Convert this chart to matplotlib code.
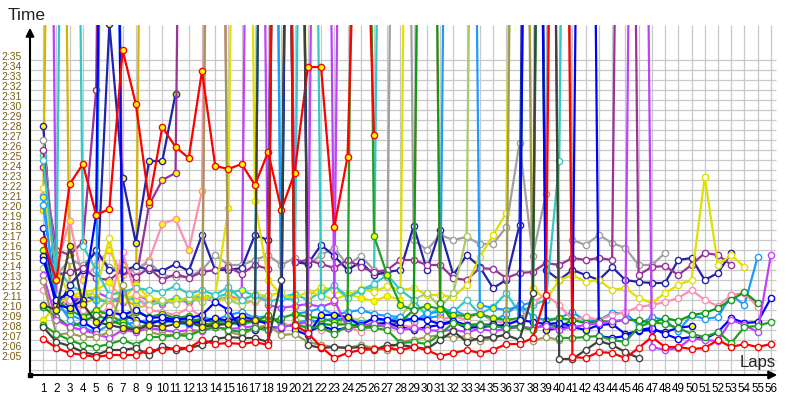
import numpy as np
import matplotlib
matplotlib.use('Agg')
from matplotlib import pyplot as plt

nan = np.nan
P = 260  # lap far off the top of the chart (pit stop)

laps = list(range(1, 57))
y_ticks = list(range(125, 156))

red_w = [127.1,126.2,125.7,125.5,125.3,125.5,125.5,125.5,126.0,126.0,
         126.2,126.2,127.0,126.6,126.7,126.6,126.8,126.5,P,128.5,
         127.7,126.3,125.2,125.7,126.0,126.1,126.2,126.0,126.3,126.0,
         125.4,125.7,126.0,125.7,126.0,126.6,126.6,127.2,131.5,P,
         125.3,125.2,125.8,125.7,125.2,126.2,127.3,126.3,126.3,126.1,
         126.2,127.0,126.3,126.6,126.3,126.6]
red_y = [137.0,133.0,142.6,144.6,139.5,140.1,156.0,150.6,140.8,148.3,
         146.3,145.2,153.9,144.4,144.1,144.6,142.5,145.8,140.0,143.7,
         154.3,154.3,138.3,145.3,190,147.5]
dgray_w = [128.3,126.8,126.4,125.8,125.5,126.0,126.0,126.2,125.5,126.4,
           126.0,126.2,126.5,127.1,127.3,127.2,127.2,126.8,133.0,P,
           126.5,126.2,126.3,126.2,126.3,126.0,126.5,126.5,126.3,126.1,
           127.0,127.9,126.8,127.2,127.3,127.5,127.0,131.7,P,125.1,
           125.1,126.0,126.9,126.5,125.8,125.2]
dgray_y = [130.5,130.0,136.4,130.6,128.8,128.5,128.2,128.0,128.5,128.3,
           128.6,128.8,128.3,128.5,128.6,128.9,129.0,P]
green_w = [128.5,127.6,127.0,126.5,126.3,126.6,127.0,126.5,127.3,127.3,
           127.5,127.4,128.0,128.3,128.0,127.8,128.2,128.0,P,128.6,
           128.2,128.3,127.6,128.4,128.3,128.2,128.0,126.7,126.8,126.6,
           127.6,128.7,128.4,128.5,128.4,128.2,128.3,128.0,P,127.2,
           127.2,127.3,127.4,127.0,126.8,128.3,128.8,128.6,128.2,127.6,
           127.3,127.8,126.7,128.3,128.4,128.8]
green2_w = [130.3,129.3,128.3,128.8,129.5,129.0,128.5,128.0,128.7,129.0,
            129.2,129.0,129.0,128.8,129.0,129.0,128.8,129.5,128.5,P,
            128.0,128.6,128.5,128.6,128.4,128.4,128.5,128.8,130.0,P,
            130.7,128.7,128.5,128.6,128.5,128.3,128.4,128.1,128.6,128.3,
            129.0,128.7,128.9,128.8,129.0,129.0,128.7,129.2,128.9,129.5,
            129.7,130.2,131.0,131.8,130.7]
green_y = [136.0,131.0,130.0,129.3,130.0,129.5,128.8,129.8,129.3,129.6,
           129.2,129.4,128.5,128.7,128.6,128.7,128.9,128.9,129.2,129.6,
           129.3,129.2,128.8,129.3,P,137.4,133.5,130.5,130.0,130.4,
           130.1,129.5,129.4,129.6,129.2,129.0,129.2,P,128.9,129.2,
           129.0]
olive_w = [132.9,127.5,127.7,127.3,127.3,127.8,132.5,128.7,127.8,127.5,
           127.5,127.7,128.0,P,127.8,127.5,128.2,128.5,127.5,127.6,
           126.8,126.5,126.3,126.2,126.5,126.2,126.0,126.8,127.0,127.3,
           127.5,127.2,127.4,126.9,127.2,127.6,P,126.9,127.3,127.0]
blue_w = [135.0,131.0,131.7,128.8,128.0,129.8,129.5,130.0,129.2,129.3,
          129.0,129.2,129.5,130.8,130.0,128.0,128.0,128.3,128.2,P,
          127.8,128.4,128.0,128.2,128.5,129.2,129.0,128.8,129.2,129.0,
          128.6,128.9,128.5,128.3,128.4,128.5,129.0,128.8,128.6,128.7,
          128.4,P,127.4,127.2,127.4,128.0,128.2,127.6,127.1,127.3,
          127.1,127.8,129.2,128.7,128.8,131.2]
blue_y = [135.4,130.5,130.2,131.0,139.5,P,129.5,129.0,128.6,129.0,
          128.8,128.7,128.8,129.2,128.9,129.4,129.0,128.6,P,128.0,
          127.5,129.5,129.5,129.3,128.4,128.6,128.7,128.3,128.0,128.3,
          128.5,128.8,128.2,128.3,128.6,128.1,128.4,P,128.0,128.2,
          128.3,128.0,128.5,128.6,127.6,127.9,128.0,127.8,128.2,128.4]
navy_w = [138.2,130.0,132.5,134.0,136.0,134.0,133.9,134.4,134.0,133.9,
          134.6,133.9,137.5,134.0,134.0,134.2,137.5,137.0,P,134.8,
          134.6,136.5,135.4,134.0,134.8,133.5,133.8,134.0,138.4,134.0,
          138.0,133.5,135.5,134.3,132.2,133.0,138.5,P,134.0,133.0,
          134.0,133.5,133.0,134.3,133.0,132.8,132.7,132.7,135.0,135.2,
          133.0,133.7,135.7]
navy_y = [148.4,131.0,130.5,131.5,131.0,158.6,143.2,136.7,144.9,144.9,151.6]
skyblue_w = [140.5,131.0,129.0,128.2,127.8,128.5,129.2,128.0,128.6,129.0,
             128.8,128.5,129.3,129.0,129.5,129.8,129.2,129.4,P,129.6,
             129.8,130.2,129.5,129.8,130.0,129.6,129.4,129.3,128.8,129.7,
             129.8,130.0,129.4,129.7,128.9,129.6,130.6,129.3,129.0,129.2,
             129.8,128.9,129.0,129.7,129.7,128.5,129.3,129.0,127.9,129.5,
             129.1,129.3,131.5,130.5,135.3]
skyblue_y = [141.3,130.5,129.5,129.0,129.3,P,128.5,128.8,129.0,128.7,
             129.0,128.9,128.6,128.4,128.8,128.5,128.9,P,128.3,128.6,
             129.0,128.8,129.2,129.0,128.7,129.1,128.9,129.3,129.0,129.2,
             129.4,P,P,130.5,130.2,130.0,130.4,130.8,P]
cyan_w = [145.0,133.0,P,136.4,134.0,131.5,131.8,132.2,132.0,131.8,
          132.4,131.6,132.0,131.5,132.3,131.0,131.5,130.8,131.2,131.0,
          P,131.4,132.5,131.2,132.0,132.6,133.5,132.0,131.0,129.3,
          130.3,129.8,131.0,129.6,130.3,131.7,129.7,130.5,131.0,144.9,P]
cyan_y = [145.5,134.3,132.5,131.8,131.0,130.8,131.4,131.0,130.5,130.8,
          131.2,131.0,131.5,131.2,131.7,132.0,131.4,P,131.3,131.6,
          131.0,131.8,132.2,131.5,131.9,132.3,P]
pink_w = [132.0,130.2,131.0,130.0,129.0,130.4,135.8,131.5,130.0,129.8,
          129.5,130.2,129.3,P,129.0,128.5,129.0,129.3,128.8,128.2,
          128.5,128.0,127.8,128.4,127.8,128.6,128.2,128.5,128.3,P,
          129.0,129.4,129.0,129.8,128.9,128.7,128.8,130.8,131.5,130.5,
          129.0,129.3,129.0,129.5,129.8,130.3,130.5,130.8,131.2,132.0,
          131.0,130.4,131.5,131.7,130.3]
pink_y = [141.5,134.5,138.9,133.0,134.5,136.0,133.5,134.0,135.0,138.6,
          139.1,136.0,141.9,P,131.5,131.0,130.8,131.2,P]
magenta_w = [133.5,129.0,128.3,128.0,127.6,127.2,128.0,127.8,128.2,128.0,
             127.8,128.0,127.9,128.3,128.1,128.2,128.4,128.0,128.3,128.5,
             128.8,P,131.0,128.2,128.4,128.6,128.4,128.0,128.2,128.0,
             127.9,128.0,127.8,128.1,127.9,128.1,128.3,128.2,128.4,128.0,
             128.3,128.5,128.7,128.9,129.0,P,126.3,126.0,126.2,127.2,
             127.0,126.9,129.0,128.5,127.8,135.5]
magenta_y = [P,131.5,131.0,131.3,131.8,131.2,130.8,131.5,131.0,130.6,
             131.0,130.8,131.2,130.9,131.3,131.0,P,130.5,130.2,130.4,
             130.6,130.3,130.8,P]
dpurple_w = [146.0,133.5,133.8,134.2,133.2,133.0,134.0,133.3,134.2,133.0,
             133.6,133.2,133.8,134.0,134.3,133.6,134.5,134.1,P,134.8,
             135.0,134.6,134.2,135.0,134.3,133.8,134.0,135.0,135.0,134.5,
             134.5,133.2,133.0,134.2,134.1,133.2,133.7,133.8,134.7,134.5,
             135.2,135.0,135.2,135.0,P,133.5,134.3,134.4,133.5,134.5,
             135.7,135.5,134.5]
dpurple_y = [144.3,136.0,135.5,136.8,152.0,P,134.5,133.0,140.5,143.0,143.7,P]
yellow_w = [142.2,134.0,131.5,131.2,131.8,137.2,131.0,131.5,131.2,131.0,
            130.8,131.3,131.6,130.8,131.2,131.0,131.6,131.4,131.8,P,
            131.5,132.3,132.0,131.4,132.1,131.8,132.4,132.0,132.2,131.5,
            131.5,131.3,132.5,135.3,137.5,139.7,P,132.2,131.0,133.0,
            133.5,132.8,133.0,132.0,132.2,131.2,130.7,131.7,132.5,133.0,
            143.3,134.5,135.5,134.3]
yellow_y = [129.0,130.5,131.4,131.8,132.0,132.8,131.0,132.5,131.2,131.0,
            130.8,131.2,131.0,131.5,140.2,P,140.9,133.0,131.5,131.2,
            131.8,131.5,131.0,131.6,131.2,130.9,131.4,131.0,P]
lgreen_w = [134.2,131.5,130.8,129.5,129.8,131.2,129.0,130.2,130.5,131.0,
            130.6,131.2,130.8,131.4,131.0,130.5,131.0,131.5,P,129.0,
            128.8,128.7,128.4,129.2,129.0,128.8,128.6,129.3,131.0,131.7,
            130.3,131.7,137.4,P]
gray_w = [147.0,133.5,135.0,134.5,135.8,134.3,134.0,134.0,134.8,133.5,
          133.3,133.3,134.0,135.5,134.5,134.5,135.0,135.5,134.5,135.2,
          134.5,135.5,136.2,134.5,135.4,134.0,133.3,P,137.0,136.0,
          137.5,137.0,137.3,136.6,136.6,138.3,146.7,135.4,141.6,P,
          137.0,136.5,137.5,136.7,136.2,134.5,134.5,135.7]
gold_y = [140.0,P,131.0,130.6,131.2,130.8,131.0,130.5,P]

series = [
    (gold_y, '#d8b400', '#ffff00'),
    (navy_y, '#2222aa', '#ffff00'),
    (dpurple_y, '#993399', '#ffff00'),
    (pink_y, '#ff8fb0', '#ffff00'),
    (magenta_y, '#c040ff', '#ffff00'),
    (cyan_y, '#33c8c8', '#ffff00'),
    (gray_w, '#a0a0a0', 'white'),
    (navy_w, '#2222aa', 'white'),
    (dpurple_w, '#993399', 'white'),
    (yellow_y, '#e0e000', '#ffff00'),
    (yellow_w, '#e0e000', 'white'),
    (lgreen_w, '#aacc66', 'white'),
    (cyan_w, '#33c8c8', 'white'),
    (skyblue_y, '#1e9bff', '#ffff00'),
    (skyblue_w, '#1e9bff', 'white'),
    (pink_w, '#ff8fb0', 'white'),
    (green_y, '#22a022', '#ffff00'),
    (green2_w, '#119911', 'white'),
    (blue_y, '#0000ff', '#ffff00'),
    (blue_w, '#0000ff', 'white'),
    (magenta_w, '#c040ff', 'white'),
    (olive_w, '#a09a5a', 'white'),
    (green_w, '#22a022', 'white'),
    (dgray_y, '#404040', '#ffff00'),
    (red_y, '#ff0000', '#ffff00'),
    (dgray_w, '#404040', 'white'),
    (red_w, '#ff0000', 'white'),
]

plt.rcParams['font.family'] = ['Liberation Sans', 'DejaVu Sans']

fig = plt.figure(figsize=(8, 4), dpi=100)
ax = fig.add_axes([30/800, 25/400, 750/800, 350/400])
ymin, ymax = 123.5, 158.5
ax.set_xlim(0, 750/13.23)
ax.set_ylim(ymin, ymax)

# grid
ax.vlines(laps, ymin, ymax, color='#c8c8c8', lw=0.9, zorder=0)
ax.hlines(range(124, 156), 0, 56.35, color='#c8c8c8', lw=0.9, zorder=0)

for vals, col, face in series:
    v = list(vals) + [nan] * (len(laps) - len(vals))
    ax.plot(laps, v, '-o', color=col, lw=1.6, ms=4.5, mfc=face, mec=col, mew=1.0)

for s in ax.spines.values():
    s.set_visible(False)
ax.annotate('', xy=(0, 1.0), xytext=(0, 0), xycoords='axes fraction',
            arrowprops=dict(arrowstyle='-|>', color='black', lw=1.5, mutation_scale=12),
            annotation_clip=False)
ax.annotate('', xy=(1.0, 0), xytext=(0, 0), xycoords='axes fraction',
            arrowprops=dict(arrowstyle='-|>', color='black', lw=1.5, mutation_scale=12),
            annotation_clip=False)
ax.plot(0, ymin, 's', color='black', ms=3, clip_on=False)

ax.set_xticks(laps)
ax.set_xticklabels([str(l) for l in laps], fontsize=8.4)
ax.tick_params(axis='x', length=0, pad=6)
ax.set_yticks([])

for t in y_ticks:
    ax.annotate(f"{t // 60}:{t % 60:02d}", xy=(0, t), xycoords=('axes fraction', 'data'),
                xytext=(-8, 3), textcoords='offset pixels', ha='right', va='center',
                fontsize=7.5, color='#7a5c10')

fig.text(8/800, 1 - 15/400, 'Time', fontsize=12.5, ha='left', va='center', color='#222222')
fig.text(758/800, 1 - 362/400, 'Laps', fontsize=12, ha='center', va='center', color='#222222')

fig.savefig('out.png', dpi=100)
